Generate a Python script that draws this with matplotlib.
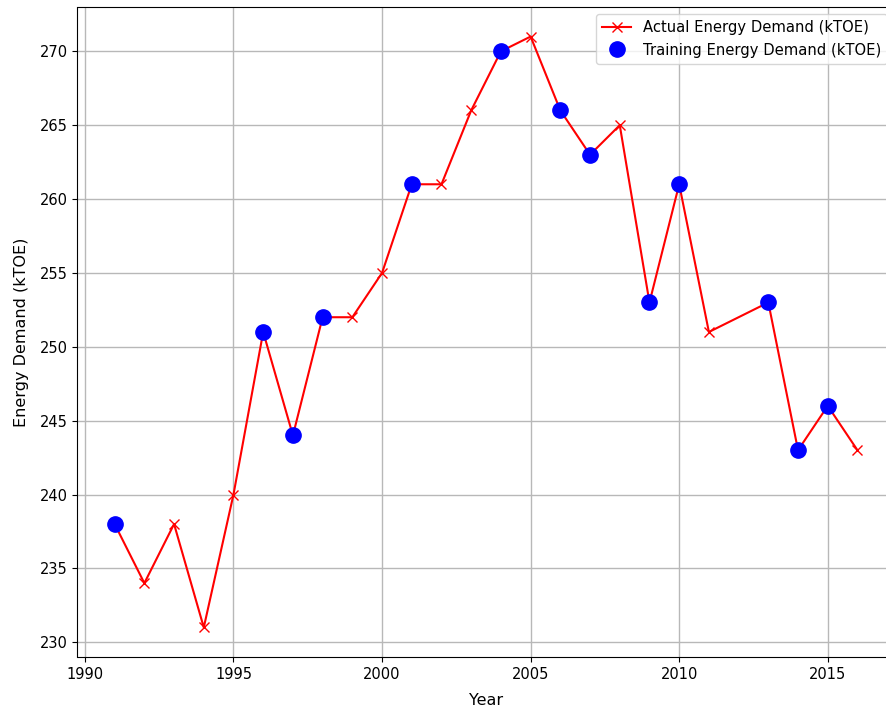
import matplotlib
matplotlib.use("Agg")
import matplotlib.pyplot as plt

actual_years = [1991, 1992, 1993, 1994, 1995, 1996, 1997, 1998, 1999, 2000, 2001, 2002,
                2003, 2004, 2005, 2006, 2007, 2008, 2009, 2010, 2011, 2013, 2014, 2015, 2016]
actual_vals = [238, 234, 238, 231, 240, 251, 244, 252, 252, 255, 261, 261,
               266, 270, 271, 266, 263, 265, 253, 261, 251, 253, 243, 246, 243]

train_years = [1991, 1996, 1997, 1998, 2001, 2004, 2006, 2007, 2009, 2010, 2013, 2014, 2015]
train_vals = [238, 251, 244, 252, 261, 270, 266, 263, 253, 261, 253, 243, 246]

fig = plt.figure(figsize=(8.87, 7.14), dpi=100)
ax = fig.add_axes([77.5/887, 57/714, (894.6-77.5)/887, 650/714])

ax.plot(actual_years, actual_vals, color='red', marker='x', markersize=7,
        linewidth=1.5, label='Actual Energy Demand (kTOE)', zorder=2)
ax.plot(train_years, train_vals, linestyle='none', marker='o', color='blue',
        markersize=11, label='Training Energy Demand (kTOE)', zorder=3)

ax.grid(True, color='#b8b8b8', linewidth=1.0)
ax.set_axisbelow(True)
ax.set_xlabel('Year', fontsize=11.5, labelpad=8)
ax.set_ylabel('Energy Demand (kTOE)', fontsize=11.5, labelpad=8)
ax.tick_params(labelsize=10.5)
ax.legend(loc='upper right', fontsize=10.6)

fig.savefig('out.png', dpi=100)
